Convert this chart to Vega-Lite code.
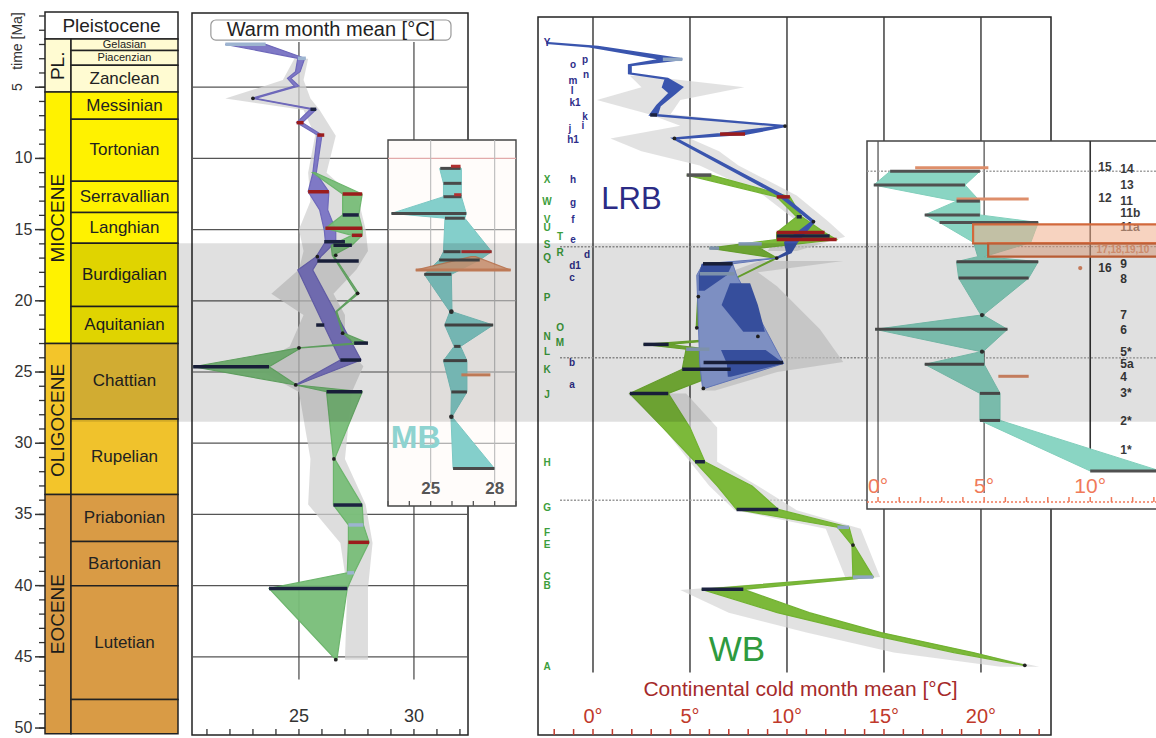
{
"$schema":"https://vega.github.io/schema/vega-lite/v6.json",
"width":1156,"height":738,"padding":0,"autosize":{"type":"none"},"background":"white",
"config":{"view":{"stroke":null},"font":"Liberation Sans","text":{"font":"Liberation Sans"}},
"datasets":{
"one":[{"k":1}],
"pleist":[{"name":"Pleistocene","top":-0.28,"bot":1.62,"mid":0.72}],
"timelab":[{"t":"time [Ma]","age":1.76},{"t":"5","age":5.0}],
"lt_minor":[{"v":0},{"v":1},{"v":2},{"v":3},{"v":4},{"v":5},{"v":6},{"v":7},{"v":8},{"v":9},{"v":10},{"v":11},{"v":12},{"v":13},{"v":14},{"v":15},{"v":16},{"v":17},{"v":18},{"v":19},{"v":20},{"v":21},{"v":22},{"v":23},{"v":24},{"v":25},{"v":26},{"v":27},{"v":28},{"v":29},{"v":30},{"v":31},{"v":32},{"v":33},{"v":34},{"v":35},{"v":36},{"v":37},{"v":38},{"v":39},{"v":40},{"v":41},{"v":42},{"v":43},{"v":44},{"v":45},{"v":46},{"v":47},{"v":48},{"v":49},{"v":50}],
"lt_major":[{"v":5},{"v":10},{"v":15},{"v":20},{"v":25},{"v":30},{"v":35},{"v":40},{"v":45},{"v":50}],
"lt_labels":[{"v":10,"l":"10"},{"v":15,"l":"15"},{"v":20,"l":"20"},{"v":25,"l":"25"},{"v":30,"l":"30"},{"v":35,"l":"35"},{"v":40,"l":"40"},{"v":45,"l":"45"},{"v":50,"l":"50"}],
"epochs":[{"name":"PL.","top":1.62,"bot":5.33,"mid":3.5},{"name":"MIOCENE","top":5.33,"bot":23.0,"mid":14.2},{"name":"OLIGOCENE","top":23.0,"bot":33.6,"mid":28.4},{"name":"EOCENE","top":33.6,"bot":50.4,"mid":42.0}],
"stages":[
{"name":"Gelasian","top":1.62,"bot":2.42,"mid":2.02},
{"name":"Piacenzian","top":2.42,"bot":3.46,"mid":2.94},
{"name":"Zanclean","top":3.46,"bot":5.33,"mid":4.4},
{"name":"Messinian","top":5.33,"bot":7.25,"mid":6.29},
{"name":"Tortonian","top":7.25,"bot":11.6,"mid":9.42},
{"name":"Serravallian","top":11.6,"bot":13.8,"mid":12.7},
{"name":"Langhian","top":13.8,"bot":15.95,"mid":14.87},
{"name":"Burdigalian","top":15.95,"bot":20.4,"mid":18.17},
{"name":"Aquitanian","top":20.4,"bot":23.0,"mid":21.7},
{"name":"Chattian","top":23.0,"bot":28.3,"mid":25.65},
{"name":"Rupelian","top":28.3,"bot":33.6,"mid":30.95},
{"name":"Priabonian","top":33.6,"bot":36.9,"mid":35.25},
{"name":"Bartonian","top":36.9,"bot":40.0,"mid":38.45},
{"name":"Lutetian","top":40.0,"bot":48.0,"mid":44.0},
{"name":"","top":48.0,"bot":50.4,"mid":49.2}],
"wm_hgrid":[{"age":5},{"age":10},{"age":15},{"age":20},{"age":25},{"age":30},{"age":35},{"age":40},{"age":45}],
"wm_vgrid":[{"t":25},{"t":30}],
"wm_ticks":[{"v":21},{"v":22},{"v":23},{"v":24},{"v":25},{"v":26},{"v":27},{"v":28},{"v":29},{"v":30},{"v":31},{"v":32}],
"wm_labels":[{"v":25,"l":"25"},{"v":30,"l":"30"}],
"wm_gray":[
{"age":3.0,"lo":24.8,"hi":25.4},{"age":4.5,"lo":24.3,"hi":25.2},{"age":5.8,"lo":21.8,"hi":25.5},{"age":6.6,"lo":25.2,"hi":25.9},{"age":8.4,"lo":25.7,"hi":26.6},{"age":11.0,"lo":25.4,"hi":26.2},{"age":13.0,"lo":25.5,"hi":27.6},{"age":15.0,"lo":25.0,"hi":27.9},{"age":16.5,"lo":25.2,"hi":28.0},{"age":17.8,"lo":25.0,"hi":27.5},{"age":19.5,"lo":23.8,"hi":26.5},{"age":21.0,"lo":25.2,"hi":27.0},{"age":23.2,"lo":24.6,"hi":27.0},{"age":24.6,"lo":23.0,"hi":27.8},{"age":26.4,"lo":25.0,"hi":27.3},{"age":31.1,"lo":25.5,"hi":27.0},{"age":34.3,"lo":25.4,"hi":27.9},{"age":37.0,"lo":26.8,"hi":28.2},{"age":40.2,"lo":27.1,"hi":28.0},{"age":45.2,"lo":27.0,"hi":28.0}],
"wm_purple":[
{"age":1.99,"lo":21.8,"hi":23.55},{"age":2.97,"lo":24.95,"hi":25.25},{"age":3.91,"lo":24.85,"hi":25.05},{"age":4.38,"lo":24.5,"hi":24.65},{"age":4.92,"lo":24.8,"hi":25.0},{"age":5.78,"lo":22.95,"hi":23.1},{"age":6.55,"lo":25.5,"hi":25.75},{"age":7.49,"lo":24.9,"hi":25.15},{"age":8.36,"lo":25.8,"hi":26.0},{"age":11.05,"lo":25.6,"hi":25.75},{"age":12.34,"lo":25.4,"hi":26.3},{"age":13.62,"lo":25.9,"hi":26.25},{"age":15.03,"lo":26.1,"hi":26.6},{"age":15.85,"lo":26.15,"hi":26.6},{"age":16.9,"lo":25.75,"hi":25.95},{"age":17.84,"lo":24.95,"hi":25.6},{"age":24.16,"lo":26.8,"hi":27.7},{"age":25.91,"lo":24.85,"hi":24.9}],
"wm_green":[
{"age":11.0,"lo":25.6,"hi":25.7},{"age":12.5,"lo":26.9,"hi":27.75},{"age":13.97,"lo":26.9,"hi":27.6},{"age":14.9,"lo":26.15,"hi":27.75},{"age":15.4,"lo":27.3,"hi":27.75},{"age":16.1,"lo":26.4,"hi":27.3},{"age":16.8,"lo":26.45,"hi":26.5},{"age":19.47,"lo":27.5,"hi":27.6},{"age":20.76,"lo":26.6,"hi":26.65},{"age":22.27,"lo":26.9,"hi":26.95},{"age":22.97,"lo":27.4,"hi":28.0},{"age":23.3,"lo":25.0,"hi":25.1},{"age":24.63,"lo":20.4,"hi":23.7},{"age":25.91,"lo":24.85,"hi":24.9},{"age":26.38,"lo":26.2,"hi":27.75},{"age":31.1,"lo":26.5,"hi":26.55},{"age":34.34,"lo":26.5,"hi":27.75},{"age":35.74,"lo":27.15,"hi":27.8},{"age":36.96,"lo":27.15,"hi":28.05},{"age":39.1,"lo":27.1,"hi":27.4},{"age":40.2,"lo":23.7,"hi":27.1},{"age":45.2,"lo":26.6,"hi":26.65}],
"wm_bars":[
{"age":1.99,"lo":21.8,"hi":23.55,"kind":"light"},{"age":2.97,"lo":24.95,"hi":25.3,"kind":"light"},{"age":6.55,"lo":25.5,"hi":25.75,"kind":"navy"},{"age":7.49,"lo":24.9,"hi":25.2,"kind":"red"},{"age":8.36,"lo":25.8,"hi":26.1,"kind":"red"},{"age":12.34,"lo":25.4,"hi":26.3,"kind":"red"},{"age":12.5,"lo":26.9,"hi":27.75,"kind":"red"},{"age":13.97,"lo":26.9,"hi":27.6,"kind":"navy"},{"age":14.9,"lo":26.15,"hi":27.75,"kind":"red"},{"age":15.4,"lo":27.3,"hi":27.75,"kind":"red"},{"age":15.85,"lo":26.1,"hi":27.0,"kind":"navy"},{"age":16.1,"lo":26.5,"hi":27.3,"kind":"navy"},{"age":17.2,"lo":25.8,"hi":27.6,"kind":"navy"},{"age":21.7,"lo":25.75,"hi":26.1,"kind":"navy"},{"age":22.97,"lo":27.4,"hi":28.0,"kind":"navy"},{"age":24.16,"lo":26.8,"hi":27.7,"kind":"navy"},{"age":24.63,"lo":20.4,"hi":23.7,"kind":"navy"},{"age":26.38,"lo":26.2,"hi":27.75,"kind":"navy"},{"age":34.34,"lo":26.5,"hi":27.75,"kind":"navy"},{"age":35.74,"lo":27.15,"hi":27.8,"kind":"light"},{"age":36.96,"lo":27.15,"hi":28.05,"kind":"red"},{"age":39.1,"lo":27.1,"hi":27.4,"kind":"light"},{"age":40.2,"lo":23.7,"hi":27.1,"kind":"navy"}],
"wm_dots":[{"x":23.0,"age":5.78},{"x":25.8,"age":16.9},{"x":26.6,"age":16.8},{"x":27.55,"age":19.47},{"x":26.9,"age":22.27},{"x":25.0,"age":23.3},{"x":24.86,"age":25.91},{"x":26.52,"age":31.1},{"x":26.6,"age":45.2}],
"rp_vgrid":[{"t":0},{"t":5},{"t":10},{"t":15},{"t":20}],
"rp_dotted":[{"age":16.2},{"age":24.0},{"age":34.0}],
"rp_ticks":[{"v":-2},{"v":-1},{"v":0},{"v":1},{"v":2},{"v":3},{"v":4},{"v":5},{"v":6},{"v":7},{"v":8},{"v":9},{"v":10},{"v":11},{"v":12},{"v":13},{"v":14},{"v":15},{"v":16},{"v":17},{"v":18},{"v":19},{"v":20},{"v":21},{"v":22},{"v":23}],
"rp_axlabels":[{"v":0,"l":"0°"},{"v":5,"l":"5°"},{"v":10,"l":"10°"},{"v":15,"l":"15°"},{"v":20,"l":"20°"}],
"rp_gray":[
{"id":"r1","age":4.2,"lo":1.9,"hi":2.6},{"id":"r1","age":5.0,"lo":2.5,"hi":7.8},{"id":"r1","age":5.9,"lo":0.2,"hi":4.5},{"id":"r1","age":6.9,"lo":2.9,"hi":4.0},{"id":"r1","age":7.7,"lo":4.5,"hi":9.9},{"id":"r1","age":8.6,"lo":0.9,"hi":5.0},{"id":"r1","age":9.5,"lo":2.5,"hi":6.5},{"id":"r1","age":10.5,"lo":5.5,"hi":7.5},{"id":"r1","age":12.6,"lo":8.8,"hi":10.5},{"id":"r1","age":14.4,"lo":10.5,"hi":12.1},{"id":"r1","age":15.5,"lo":9.5,"hi":13.0},{"id":"r1","age":16.5,"lo":9.0,"hi":10.5},
{"id":"r2","age":17.2,"lo":8.6,"hi":12.9},{"id":"r2","age":18.0,"lo":7.0,"hi":8.5},{"id":"r2","age":19.0,"lo":7.5,"hi":9.5},{"id":"r2","age":22.0,"lo":8.5,"hi":11.7},{"id":"r2","age":24.3,"lo":9.8,"hi":12.9},{"id":"r2","age":25.0,"lo":8.0,"hi":9.5},{"id":"r2","age":26.3,"lo":5.5,"hi":6.3},
{"id":"r3","age":26.5,"lo":1.8,"hi":4.8},{"id":"r3","age":28.9,"lo":3.6,"hi":6.4},{"id":"r3","age":31.3,"lo":5.0,"hi":6.4},{"id":"r3","age":33.0,"lo":6.0,"hi":8.5},{"id":"r3","age":34.7,"lo":7.3,"hi":10.5},{"id":"r3","age":36.0,"lo":12.0,"hi":13.8},{"id":"r3","age":39.4,"lo":13.0,"hi":14.8},{"id":"r3","age":40.3,"lo":4.5,"hi":8.0},{"id":"r3","age":41.9,"lo":7.0,"hi":11.1},{"id":"r3","age":43.3,"lo":11.0,"hi":14.8},{"id":"r3","age":44.7,"lo":15.5,"hi":19.6},{"id":"r3","age":45.7,"lo":21.0,"hi":23.0}],
"rp_wb":[
{"age":11.17,"lo":4.83,"hi":6.1},{"age":12.7,"lo":9.47,"hi":10.15},{"age":14.1,"lo":10.5,"hi":10.76},{"age":15.2,"lo":9.47,"hi":11.94},{"age":15.7,"lo":9.47,"hi":12.56},{"age":16.3,"lo":6.0,"hi":8.6},{"age":17.0,"lo":9.4,"hi":9.5},{"age":19.7,"lo":5.4,"hi":5.46},{"age":21.9,"lo":5.32,"hi":5.38},{"age":22.5,"lo":8.45,"hi":8.55},{"age":23.06,"lo":2.6,"hi":3.9},{"age":23.4,"lo":4.8,"hi":6.0},{"age":24.8,"lo":4.6,"hi":7.1},{"age":26.5,"lo":1.9,"hi":3.88},{"age":28.9,"lo":3.6,"hi":5.0},{"age":31.3,"lo":5.26,"hi":5.77},{"age":33.0,"lo":6.4,"hi":8.2},{"age":34.65,"lo":7.4,"hi":9.55},{"age":35.9,"lo":12.6,"hi":13.2},{"age":37.15,"lo":13.35,"hi":13.45},{"age":39.4,"lo":13.4,"hi":14.45},{"age":40.26,"lo":5.6,"hi":7.75},{"age":41.9,"lo":9.5,"hi":11.15},{"age":43.3,"lo":13.8,"hi":14.85},{"age":44.7,"lo":18.6,"hi":19.6},{"age":45.6,"lo":22.2,"hi":22.3}],
"rp_lrb_top":[
{"age":1.9,"lo":-2.4,"hi":-2.3},{"age":2.15,"lo":-0.2,"hi":0.25},{"age":3.04,"lo":3.6,"hi":4.6},{"age":3.45,"lo":1.85,"hi":1.95},{"age":4.03,"lo":1.85,"hi":1.95},{"age":4.4,"lo":3.75,"hi":3.85},{"age":5.0,"lo":3.6,"hi":4.6},{"age":5.4,"lo":3.95,"hi":4.25},{"age":6.3,"lo":3.3,"hi":3.45},{"age":6.95,"lo":2.95,"hi":3.3},{"age":7.73,"lo":9.85,"hi":9.95},{"age":8.29,"lo":6.55,"hi":7.84},{"age":8.6,"lo":4.15,"hi":4.25},{"age":12.57,"lo":9.55,"hi":9.75},{"age":14.44,"lo":11.3,"hi":11.4},{"age":15.9,"lo":9.9,"hi":10.5},{"age":16.6,"lo":10.0,"hi":10.2},{"age":17.0,"lo":9.45,"hi":9.5}],
"rp_lrb_light":[{"age":17.0,"lo":9.45,"hi":9.5},{"age":17.4,"lo":5.67,"hi":7.2},{"age":18.2,"lo":5.35,"hi":7.4},{"age":24.4,"lo":5.5,"hi":9.83},{"age":26.15,"lo":5.65,"hi":5.75}],
"rp_lrb_dark":[
{"id":"p1","age":17.4,"lo":5.6,"hi":7.2},{"id":"p1","age":18.2,"lo":5.45,"hi":6.9},{"id":"p1","age":19.3,"lo":5.45,"hi":5.75},
{"id":"p2","age":18.77,"lo":7.06,"hi":8.1},{"id":"p2","age":20.3,"lo":6.63,"hi":8.5},{"id":"p2","age":22.17,"lo":7.75,"hi":8.86},
{"id":"p3","age":23.46,"lo":6.6,"hi":8.9},{"id":"p3","age":24.4,"lo":6.9,"hi":9.85},{"id":"p3","age":25.33,"lo":6.95,"hi":7.1}],
"rp_bars":[
{"age":3.04,"lo":3.6,"hi":4.6,"kind":"light"},{"age":6.95,"lo":2.95,"hi":3.3,"kind":"navy"},{"age":8.29,"lo":6.55,"hi":7.84,"kind":"red"},{"age":11.17,"lo":4.83,"hi":6.1,"kind":"dgray"},{"age":12.7,"lo":9.47,"hi":10.15,"kind":"red"},{"age":14.1,"lo":10.5,"hi":10.76,"kind":"navy"},{"age":15.2,"lo":9.47,"hi":11.94,"kind":"red"},{"age":15.45,"lo":9.47,"hi":12.2,"kind":"navy"},{"age":15.7,"lo":9.47,"hi":12.56,"kind":"red"},{"age":16.0,"lo":7.5,"hi":8.7,"kind":"light"},{"age":16.3,"lo":6.0,"hi":6.5,"kind":"light"},{"age":17.4,"lo":5.67,"hi":7.2,"kind":"navy"},{"age":18.1,"lo":5.5,"hi":7.3,"kind":"light"},{"age":23.06,"lo":2.6,"hi":3.9,"kind":"navy"},{"age":23.4,"lo":4.8,"hi":6.0,"kind":"light"},{"age":24.33,"lo":5.7,"hi":9.8,"kind":"navy"},{"age":24.8,"lo":4.6,"hi":7.1,"kind":"navy"},{"age":26.5,"lo":1.9,"hi":3.88,"kind":"navy"},{"age":31.3,"lo":5.26,"hi":5.77,"kind":"navy"},{"age":34.65,"lo":7.4,"hi":9.55,"kind":"navy"},{"age":35.9,"lo":12.6,"hi":13.2,"kind":"light"},{"age":39.4,"lo":13.4,"hi":14.45,"kind":"light"},{"age":40.26,"lo":5.6,"hi":7.75,"kind":"navy"}],
"rp_dots":[{"x":9.9,"age":7.73},{"x":4.2,"age":8.6},{"x":11.36,"age":14.44},{"x":9.47,"age":17.0},{"x":5.43,"age":19.7},{"x":5.35,"age":21.9},{"x":8.5,"age":22.5},{"x":5.69,"age":26.15},{"x":13.4,"age":37.15},{"x":22.26,"age":45.6}],
"rp_letters":[
{"t":"X","x":-2.37,"age":11.52,"grp":"WB"},{"t":"W","x":-2.37,"age":13.04,"grp":"WB"},{"t":"V","x":-2.37,"age":14.3,"grp":"WB"},{"t":"U","x":-2.37,"age":14.92,"grp":"WB"},{"t":"T","x":-1.7,"age":15.5,"grp":"WB"},{"t":"S","x":-2.37,"age":16.08,"grp":"WB"},{"t":"R","x":-1.7,"age":16.64,"grp":"WB"},{"t":"Q","x":-2.37,"age":16.99,"grp":"WB"},{"t":"P","x":-2.37,"age":19.8,"grp":"WB"},{"t":"O","x":-1.7,"age":21.9,"grp":"WB"},{"t":"N","x":-2.37,"age":22.54,"grp":"WB"},{"t":"M","x":-1.7,"age":22.96,"grp":"WB"},{"t":"L","x":-2.37,"age":23.6,"grp":"WB"},{"t":"K","x":-2.37,"age":24.86,"grp":"WB"},{"t":"J","x":-2.37,"age":26.6,"grp":"WB"},{"t":"H","x":-2.37,"age":31.4,"grp":"WB"},{"t":"G","x":-2.37,"age":34.55,"grp":"WB"},{"t":"F","x":-2.37,"age":36.3,"grp":"WB"},{"t":"E","x":-2.37,"age":37.15,"grp":"WB"},{"t":"C","x":-2.37,"age":39.4,"grp":"WB"},{"t":"B","x":-2.37,"age":40.03,"grp":"WB"},{"t":"A","x":-2.37,"age":45.72,"grp":"WB"},
{"t":"Y","x":-2.37,"age":1.9,"grp":"LRB"},{"t":"o","x":-1.03,"age":3.45,"grp":"LRB"},{"t":"p","x":-0.41,"age":3.1,"grp":"LRB"},{"t":"n","x":-0.36,"age":4.14,"grp":"LRB"},{"t":"m","x":-1.03,"age":4.58,"grp":"LRB"},{"t":"l","x":-1.08,"age":5.25,"grp":"LRB"},{"t":"k1","x":-0.93,"age":6.09,"grp":"LRB"},{"t":"k","x":-0.41,"age":7.09,"grp":"LRB"},{"t":"j","x":-1.19,"age":7.9,"grp":"LRB"},{"t":"i","x":-0.52,"age":7.75,"grp":"LRB"},{"t":"h1","x":-1.03,"age":8.71,"grp":"LRB"},{"t":"h","x":-1.03,"age":11.52,"grp":"LRB"},{"t":"g","x":-1.03,"age":13.1,"grp":"LRB"},{"t":"f","x":-1.03,"age":14.33,"grp":"LRB"},{"t":"e","x":-1.03,"age":15.73,"grp":"LRB"},{"t":"d","x":-0.31,"age":16.78,"grp":"LRB"},{"t":"d1","x":-0.93,"age":17.56,"grp":"LRB"},{"t":"c","x":-1.08,"age":18.4,"grp":"LRB"},{"t":"b","x":-1.08,"age":24.37,"grp":"LRB"},{"t":"a","x":-1.08,"age":25.9,"grp":"LRB"}],
"mb_hgrid":[{"age":10,"c":"p"},{"age":15,"c":"g"},{"age":20,"c":"g"},{"age":25,"c":"g"},{"age":30,"c":"g"}],
"mb_vgrid":[{"t":25},{"t":28}],
"mb_ticks":[{"v":23},{"v":24},{"v":25},{"v":26},{"v":27},{"v":28},{"v":29}],
"mb_axlabels":[{"v":25,"l":"25"},{"v":28,"l":"28"}],
"mb_teal":[
{"age":10.7,"lo":25.42,"hi":26.44},{"age":11.75,"lo":25.6,"hi":26.44},{"age":12.69,"lo":25.6,"hi":26.44},{"age":13.86,"lo":23.16,"hi":26.67},{"age":14.2,"lo":25.67,"hi":26.6},{"age":16.55,"lo":25.6,"hi":27.86},{"age":17.13,"lo":25.4,"hi":27.3},{"age":18.14,"lo":24.7,"hi":25.97},{"age":20.76,"lo":25.9,"hi":26.0},{"age":21.7,"lo":25.66,"hi":27.93},{"age":23.2,"lo":26.1,"hi":26.4},{"age":24.2,"lo":25.6,"hi":26.7},{"age":26.4,"lo":25.97,"hi":26.7},{"age":28.14,"lo":25.95,"hi":26.0},{"age":31.77,"lo":26.05,"hi":27.99}],
"mb_orange":[{"age":16.9,"lo":26.9,"hi":27.1},{"age":17.84,"lo":24.3,"hi":28.75}],
"mb_bars":[
{"age":10.7,"lo":25.45,"hi":26.4,"kind":"dgray"},{"age":10.55,"lo":25.95,"hi":26.4,"kind":"red"},{"age":11.75,"lo":25.6,"hi":26.44,"kind":"dgray"},{"age":12.69,"lo":25.6,"hi":26.44,"kind":"dgray"},{"age":12.55,"lo":26.1,"hi":26.44,"kind":"red"},{"age":13.86,"lo":23.16,"hi":26.67,"kind":"dgray"},{"age":14.2,"lo":25.67,"hi":26.6,"kind":"dgray"},{"age":16.55,"lo":25.6,"hi":26.4,"kind":"dgray"},{"age":16.55,"lo":26.44,"hi":27.86,"kind":"red"},{"age":17.13,"lo":25.4,"hi":27.3,"kind":"dgray"},{"age":17.84,"lo":24.3,"hi":28.75,"kind":"salmon"},{"age":18.14,"lo":24.7,"hi":25.97,"kind":"dgray"},{"age":21.7,"lo":25.66,"hi":27.93,"kind":"dgray"},{"age":23.2,"lo":26.1,"hi":26.4,"kind":"dgray"},{"age":24.2,"lo":25.6,"hi":26.7,"kind":"dgray"},{"age":25.2,"lo":26.44,"hi":27.8,"kind":"salmon"},{"age":26.4,"lo":25.97,"hi":26.7,"kind":"dgray"},{"age":31.77,"lo":26.05,"hi":27.99,"kind":"dgray"}],
"mb_dots":[{"x":25.97,"age":20.76},{"x":25.97,"age":28.14}],
"ri_vlines":[{"t":0},{"t":5}],
"ri_dotted":[{"age":10.9},{"age":16.2},{"age":24.0}],
"ri_ticks":[{"v":0},{"v":1},{"v":2},{"v":3},{"v":4},{"v":5},{"v":6},{"v":7},{"v":8},{"v":9},{"v":10},{"v":11},{"v":12},{"v":13}],
"ri_axlabels":[{"v":0,"l":"0°"},{"v":5,"l":"5°"},{"v":10,"l":"10°"}],
"ri_teal":[
{"age":10.9,"lo":0.57,"hi":4.8},{"age":11.87,"lo":-0.2,"hi":4.1},{"age":13.0,"lo":3.7,"hi":4.8},{"age":13.97,"lo":2.2,"hi":4.8},{"age":14.5,"lo":2.9,"hi":7.55},{"age":15.9,"lo":4.5,"hi":7.2},{"age":16.9,"lo":4.7,"hi":5.0},{"age":17.25,"lo":3.7,"hi":7.55},{"age":18.4,"lo":3.8,"hi":7.1},{"age":21.0,"lo":4.85,"hi":4.95},{"age":22.0,"lo":-0.14,"hi":6.1},{"age":23.57,"lo":4.85,"hi":4.95},{"age":24.46,"lo":2.2,"hi":5.0},{"age":26.5,"lo":4.8,"hi":5.75},{"age":28.4,"lo":4.8,"hi":5.75},{"age":31.95,"lo":10.0,"hi":13.3}],
"ri_bars":[
{"age":10.65,"lo":1.75,"hi":5.2,"kind":"salmon"},{"age":10.9,"lo":0.57,"hi":4.8,"kind":"dgray"},{"age":11.87,"lo":-0.2,"hi":4.1,"kind":"dgray"},{"age":12.85,"lo":3.7,"hi":7.1,"kind":"salmon"},{"age":13.0,"lo":3.7,"hi":4.8,"kind":"dgray"},{"age":13.97,"lo":2.2,"hi":4.8,"kind":"dgray"},{"age":14.5,"lo":2.9,"hi":7.55,"kind":"dgray"},{"age":17.25,"lo":3.7,"hi":7.55,"kind":"dgray"},{"age":18.4,"lo":3.8,"hi":7.1,"kind":"dgray"},{"age":22.0,"lo":-0.14,"hi":6.1,"kind":"dgray"},{"age":24.46,"lo":2.2,"hi":5.0,"kind":"dgray"},{"age":25.3,"lo":5.67,"hi":7.1,"kind":"salmon"},{"age":26.5,"lo":4.8,"hi":5.75,"kind":"dgray"},{"age":28.4,"lo":4.8,"hi":5.75,"kind":"dgray"},{"age":31.95,"lo":10.0,"hi":13.3,"kind":"dgray"}],
"ri_boxes":[{"top":14.63,"bot":15.96,"lo":4.48,"hi":13.3},{"top":15.96,"bot":16.9,"lo":5.19,"hi":13.3}],
"ri_dots":[{"x":4.9,"age":21.0,"kind":"dark"},{"x":4.9,"age":23.57,"kind":"dark"},{"x":9.53,"age":17.7,"kind":"salmon"}],
"ri_labels":[
{"t":"15","x":10.38,"age":10.58,"grp":"k"},{"t":"14","x":11.42,"age":10.72,"grp":"k"},{"t":"13","x":11.42,"age":11.87,"grp":"k"},{"t":"12","x":10.38,"age":12.78,"grp":"k"},{"t":"11","x":11.42,"age":12.99,"grp":"k"},{"t":"11b","x":11.42,"age":13.82,"grp":"k"},{"t":"11a","x":11.42,"age":14.85,"grp":"k"},{"t":"17,18,19,10","x":10.3,"age":16.45,"grp":"s"},{"t":"16","x":10.38,"age":17.7,"grp":"k"},{"t":"9","x":11.42,"age":17.4,"grp":"k"},{"t":"8","x":11.42,"age":18.47,"grp":"k"},{"t":"7","x":11.42,"age":21.0,"grp":"k"},{"t":"6","x":11.42,"age":22.05,"grp":"k"},{"t":"5*","x":11.42,"age":23.6,"grp":"k"},{"t":"5a","x":11.42,"age":24.44,"grp":"k"},{"t":"4","x":11.42,"age":25.35,"grp":"k"},{"t":"3*","x":11.42,"age":26.47,"grp":"k"},{"t":"2*","x":11.42,"age":28.44,"grp":"k"},{"t":"1*","x":11.42,"age":30.48,"grp":"k"}]
},
"resolve":{"scale":{"x":"independent","color":"independent","size":"independent"},"axis":{"x":"independent"}},
"layer":[
{"layer":[
 {"data":{"name":"pleist"},"mark":{"type":"rect","fill":"white","stroke":"#222","strokeWidth":1.5},
  "encoding":{"x":{"datum":0,"type":"quantitative","scale":{"domain":[0,1],"range":[45,178],"nice":false,"zero":false},"axis":null},"x2":{"datum":1},
   "y":{"field":"top","type":"quantitative","scale":{"domain":[-1.124,50.7],"range":[0,738],"nice":false,"zero":false},"axis":null},"y2":{"field":"bot"}}},
 {"data":{"name":"pleist"},"mark":{"type":"text","fontSize":19,"color":"#222"},
  "encoding":{"x":{"datum":0.5,"type":"quantitative","scale":{"domain":[0,1],"range":[45,178],"nice":false,"zero":false},"axis":null},
   "y":{"field":"mid","type":"quantitative","scale":{"domain":[-1.124,50.7],"range":[0,738],"nice":false,"zero":false},"axis":null},"text":{"field":"name"}}},
 {"data":{"name":"lt_minor"},"mark":{"type":"rule","stroke":"#333","strokeWidth":1.3},
  "encoding":{"x":{"datum":-0.045,"type":"quantitative","scale":{"domain":[0,1],"range":[45,178],"nice":false,"zero":false},"axis":null},"x2":{"datum":0},
   "y":{"field":"v","type":"quantitative","scale":{"domain":[-1.124,50.7],"range":[0,738],"nice":false,"zero":false},"axis":null}}},
 {"data":{"name":"lt_major"},"mark":{"type":"rule","stroke":"#333","strokeWidth":1.5},
  "encoding":{"x":{"datum":-0.075,"type":"quantitative","scale":{"domain":[0,1],"range":[45,178],"nice":false,"zero":false},"axis":null},"x2":{"datum":0},
   "y":{"field":"v","type":"quantitative","scale":{"domain":[-1.124,50.7],"range":[0,738],"nice":false,"zero":false},"axis":null}}},
 {"data":{"name":"lt_labels"},"mark":{"type":"text","fontSize":16,"color":"#333","align":"right","baseline":"middle"},
  "encoding":{"x":{"datum":-0.095,"type":"quantitative","scale":{"domain":[0,1],"range":[45,178],"nice":false,"zero":false},"axis":null},
   "y":{"field":"v","type":"quantitative","scale":{"domain":[-1.124,50.7],"range":[0,738],"nice":false,"zero":false},"axis":null},"text":{"field":"l"}}},
 {"data":{"name":"timelab"},"mark":{"type":"text","fontSize":14,"angle":270,"color":"#333"},
  "encoding":{"x":{"datum":-0.2,"type":"quantitative","scale":{"domain":[0,1],"range":[45,178],"nice":false,"zero":false},"axis":null},
   "y":{"field":"age","type":"quantitative","scale":{"domain":[-1.124,50.7],"range":[0,738],"nice":false,"zero":false},"axis":null},"text":{"field":"t"}}}
]},
{"layer":[
 {"data":{"name":"epochs"},"mark":{"type":"rect","stroke":"#222","strokeWidth":1.5},
  "encoding":{"x":{"datum":0,"type":"quantitative","scale":{"domain":[0,1],"range":[45,71],"nice":false,"zero":false},"axis":null},"x2":{"datum":1},
   "y":{"field":"top","type":"quantitative","scale":{"domain":[-1.124,50.7],"range":[0,738],"nice":false,"zero":false},"axis":null},"y2":{"field":"bot"},
   "color":{"field":"name","type":"nominal","scale":{"domain":["PL.","MIOCENE","OLIGOCENE","EOCENE"],"range":["#FFFBD2","#FFF200","#F3C52A","#D99B45"]},"legend":null}}},
 {"data":{"name":"epochs"},"mark":{"type":"text","fontSize":19,"angle":270,"color":"#1a1a1a"},
  "encoding":{"x":{"datum":0.5,"type":"quantitative","scale":{"domain":[0,1],"range":[45,71],"nice":false,"zero":false},"axis":null},
   "y":{"field":"mid","type":"quantitative","scale":{"domain":[-1.124,50.7],"range":[0,738],"nice":false,"zero":false},"axis":null},"text":{"field":"name"}}}
]},
{"layer":[
 {"data":{"name":"stages"},"mark":{"type":"rect","stroke":"#222","strokeWidth":1.5},
  "encoding":{"x":{"datum":0,"type":"quantitative","scale":{"domain":[0,1],"range":[71,178],"nice":false,"zero":false},"axis":null},"x2":{"datum":1},
   "y":{"field":"top","type":"quantitative","scale":{"domain":[-1.124,50.7],"range":[0,738],"nice":false,"zero":false},"axis":null},"y2":{"field":"bot"},
   "color":{"field":"name","type":"nominal","scale":{"domain":["Gelasian","Piacenzian","Zanclean","Messinian","Tortonian","Serravallian","Langhian","Burdigalian","Aquitanian","Chattian","Rupelian","Priabonian","Bartonian","Lutetian",""],"range":["#FFFBD2","#FFFBD2","#FFFBD2","#FFF200","#FFF200","#FFF200","#FFF200","#FFF200","#FFF200","#EEC43A","#F0C22C","#D99B45","#D99B45","#D99B45","#D99B45"]},"legend":null}}},
 {"data":{"name":"stages"},"mark":{"type":"text","color":"#222"},
  "encoding":{"x":{"datum":0.5,"type":"quantitative","scale":{"domain":[0,1],"range":[71,178],"nice":false,"zero":false},"axis":null},
   "y":{"field":"mid","type":"quantitative","scale":{"domain":[-1.124,50.7],"range":[0,738],"nice":false,"zero":false},"axis":null},"text":{"field":"name"},
   "size":{"condition":{"test":"datum.name === 'Gelasian' || datum.name === 'Piacenzian'","value":11},"value":17}}}
]},
{"resolve":{"scale":{"color":"independent"}},"layer":[
 {"data":{"name":"one"},"mark":{"type":"rect","filled":false,"stroke":"#222","strokeWidth":1.5},
  "encoding":{"x":{"datum":20.35,"type":"quantitative","scale":{"domain":[20.35,32.35],"range":[192,468],"nice":false,"zero":false},"axis":null},"x2":{"datum":32.35},
   "y":{"datum":-0.21,"type":"quantitative","scale":{"domain":[-1.124,50.7],"range":[0,738],"nice":false,"zero":false},"axis":null},"y2":{"datum":50.49}}},
 {"data":{"name":"wm_hgrid"},"mark":{"type":"rule","stroke":"#555","strokeWidth":1.2},
  "encoding":{"x":{"datum":20.35,"type":"quantitative","scale":{"domain":[20.35,32.35],"range":[192,468],"nice":false,"zero":false},"axis":null},"x2":{"datum":32.35},
   "y":{"field":"age","type":"quantitative","scale":{"domain":[-1.124,50.7],"range":[0,738],"nice":false,"zero":false},"axis":null}}},
 {"data":{"name":"wm_vgrid"},"mark":{"type":"rule","stroke":"#444","strokeWidth":1.2},
  "encoding":{"x":{"field":"t","type":"quantitative","scale":{"domain":[20.35,32.35],"range":[192,468],"nice":false,"zero":false},"axis":null},
   "y":{"datum":1.83,"type":"quantitative","scale":{"domain":[-1.124,50.7],"range":[0,738],"nice":false,"zero":false},"axis":null},"y2":{"datum":46.6}}},
 {"data":{"name":"wm_ticks"},"mark":{"type":"rule","stroke":"#333","strokeWidth":1.3},
  "encoding":{"x":{"field":"v","type":"quantitative","scale":{"domain":[20.35,32.35],"range":[192,468],"nice":false,"zero":false},"axis":null},
   "y":{"datum":50.07,"type":"quantitative","scale":{"domain":[-1.124,50.7],"range":[0,738],"nice":false,"zero":false},"axis":null},"y2":{"datum":50.49}}},
 {"data":{"name":"wm_labels"},"mark":{"type":"text","fontSize":18,"color":"#333"},
  "encoding":{"x":{"field":"v","type":"quantitative","scale":{"domain":[20.35,32.35],"range":[192,468],"nice":false,"zero":false},"axis":null},
   "y":{"datum":49.23,"type":"quantitative","scale":{"domain":[-1.124,50.7],"range":[0,738],"nice":false,"zero":false},"axis":null},"text":{"field":"l"}}},
 {"data":{"name":"wm_gray"},"mark":{"type":"area","orient":"horizontal","fill":"#D2D2D2","opacity":0.75},
  "encoding":{"x":{"field":"lo","type":"quantitative","scale":{"domain":[20.35,32.35],"range":[192,468],"nice":false,"zero":false},"axis":null},"x2":{"field":"hi"},
   "y":{"field":"age","type":"quantitative","scale":{"domain":[-1.124,50.7],"range":[0,738],"nice":false,"zero":false},"axis":null}}},
 {"data":{"name":"wm_purple"},"mark":{"type":"area","orient":"horizontal","fill":"#7F79C6","stroke":"#6E68BA","strokeWidth":1.2},
  "encoding":{"x":{"field":"lo","type":"quantitative","scale":{"domain":[20.35,32.35],"range":[192,468],"nice":false,"zero":false},"axis":null},"x2":{"field":"hi"},
   "y":{"field":"age","type":"quantitative","scale":{"domain":[-1.124,50.7],"range":[0,738],"nice":false,"zero":false},"axis":null}}},
 {"data":{"name":"wm_green"},"mark":{"type":"area","orient":"horizontal","fill":"#79BE79","stroke":"#66B266","strokeWidth":1.2,"opacity":0.95},
  "encoding":{"x":{"field":"lo","type":"quantitative","scale":{"domain":[20.35,32.35],"range":[192,468],"nice":false,"zero":false},"axis":null},"x2":{"field":"hi"},
   "y":{"field":"age","type":"quantitative","scale":{"domain":[-1.124,50.7],"range":[0,738],"nice":false,"zero":false},"axis":null}}},
 {"data":{"name":"wm_bars"},"mark":{"type":"rule","strokeWidth":3.5},
  "encoding":{"x":{"field":"lo","type":"quantitative","scale":{"domain":[20.35,32.35],"range":[192,468],"nice":false,"zero":false},"axis":null},"x2":{"field":"hi"},
   "y":{"field":"age","type":"quantitative","scale":{"domain":[-1.124,50.7],"range":[0,738],"nice":false,"zero":false},"axis":null},
   "color":{"field":"kind","type":"nominal","scale":{"domain":["navy","red","light","dgray","salmon"],"range":["#1C2340","#9B1C1C","#9DB4D0","#4A4A4A","#E08A66"]},"legend":null}}},
 {"data":{"name":"wm_dots"},"mark":{"type":"point","filled":true,"size":14,"color":"#222","opacity":1},
  "encoding":{"x":{"field":"x","type":"quantitative","scale":{"domain":[20.35,32.35],"range":[192,468],"nice":false,"zero":false},"axis":null},
   "y":{"field":"age","type":"quantitative","scale":{"domain":[-1.124,50.7],"range":[0,738],"nice":false,"zero":false},"axis":null}}},
 {"data":{"name":"one"},"mark":{"type":"rect","fill":"white","stroke":"#999","strokeWidth":1.2,"cornerRadius":5},
  "encoding":{"x":{"datum":21.17,"type":"quantitative","scale":{"domain":[20.35,32.35],"range":[192,468],"nice":false,"zero":false},"axis":null},"x2":{"datum":31.61},
   "y":{"datum":0.28,"type":"quantitative","scale":{"domain":[-1.124,50.7],"range":[0,738],"nice":false,"zero":false},"axis":null},"y2":{"datum":1.69}}},
 {"data":{"name":"one"},"mark":{"type":"text","fontSize":20,"color":"#222","text":"Warm month mean [°C]"},
  "encoding":{"x":{"datum":26.39,"type":"quantitative","scale":{"domain":[20.35,32.35],"range":[192,468],"nice":false,"zero":false},"axis":null},
   "y":{"datum":0.98,"type":"quantitative","scale":{"domain":[-1.124,50.7],"range":[0,738],"nice":false,"zero":false},"axis":null}}}
]},
{"resolve":{"scale":{"color":"independent"}},"layer":[
 {"data":{"name":"one"},"mark":{"type":"rect","filled":false,"stroke":"#222","strokeWidth":1.5},
  "encoding":{"x":{"datum":-2.835,"type":"quantitative","scale":{"domain":[-2.835,23.61],"range":[538,1051],"nice":false,"zero":false},"axis":null},"x2":{"datum":23.61},
   "y":{"datum":0.07,"type":"quantitative","scale":{"domain":[-1.124,50.7],"range":[0,738],"nice":false,"zero":false},"axis":null},"y2":{"datum":50.49}}},
 {"data":{"name":"rp_vgrid"},"mark":{"type":"rule","stroke":"#333","strokeWidth":1.4},
  "encoding":{"x":{"field":"t","type":"quantitative","scale":{"domain":[-2.835,23.61],"range":[538,1051],"nice":false,"zero":false},"axis":null},
   "y":{"datum":0.07,"type":"quantitative","scale":{"domain":[-1.124,50.7],"range":[0,738],"nice":false,"zero":false},"axis":null},"y2":{"datum":46.1}}},
 {"data":{"name":"rp_dotted"},"mark":{"type":"rule","stroke":"#999","strokeWidth":1.5,"strokeDash":[2,1.5]},
  "encoding":{"x":{"datum":-1.7,"type":"quantitative","scale":{"domain":[-2.835,23.61],"range":[538,1051],"nice":false,"zero":false},"axis":null},"x2":{"datum":29.0},
   "y":{"field":"age","type":"quantitative","scale":{"domain":[-1.124,50.7],"range":[0,738],"nice":false,"zero":false},"axis":null}}},
 {"data":{"name":"rp_ticks"},"mark":{"type":"rule","stroke":"#C0392B","strokeWidth":1.5},
  "encoding":{"x":{"field":"v","type":"quantitative","scale":{"domain":[-2.835,23.61],"range":[538,1051],"nice":false,"zero":false},"axis":null},
   "y":{"datum":50.07,"type":"quantitative","scale":{"domain":[-1.124,50.7],"range":[0,738],"nice":false,"zero":false},"axis":null},"y2":{"datum":50.49}}},
 {"data":{"name":"rp_axlabels"},"mark":{"type":"text","fontSize":20,"color":"#C0392B"},
  "encoding":{"x":{"field":"v","type":"quantitative","scale":{"domain":[-2.835,23.61],"range":[538,1051],"nice":false,"zero":false},"axis":null},
   "y":{"datum":49.23,"type":"quantitative","scale":{"domain":[-1.124,50.7],"range":[0,738],"nice":false,"zero":false},"axis":null},"text":{"field":"l"}}},
 {"data":{"name":"one"},"mark":{"type":"text","fontSize":21,"color":"#A52A2A","text":"Continental cold month mean [°C]"},
  "encoding":{"x":{"datum":10.7,"type":"quantitative","scale":{"domain":[-2.835,23.61],"range":[538,1051],"nice":false,"zero":false},"axis":null},
   "y":{"datum":47.33,"type":"quantitative","scale":{"domain":[-1.124,50.7],"range":[0,738],"nice":false,"zero":false},"axis":null}}},
 {"data":{"name":"rp_gray"},"mark":{"type":"area","orient":"horizontal","fill":"#D6D6D6","opacity":0.7},
  "encoding":{"x":{"field":"lo","type":"quantitative","scale":{"domain":[-2.835,23.61],"range":[538,1051],"nice":false,"zero":false},"axis":null},"x2":{"field":"hi"},
   "y":{"field":"age","type":"quantitative","scale":{"domain":[-1.124,50.7],"range":[0,738],"nice":false,"zero":false},"axis":null},"detail":{"field":"id"}}},
 {"data":{"name":"rp_wb"},"mark":{"type":"area","orient":"horizontal","fill":"#7CB93A","stroke":"#72B232","strokeWidth":1.2},
  "encoding":{"x":{"field":"lo","type":"quantitative","scale":{"domain":[-2.835,23.61],"range":[538,1051],"nice":false,"zero":false},"axis":null},"x2":{"field":"hi"},
   "y":{"field":"age","type":"quantitative","scale":{"domain":[-1.124,50.7],"range":[0,738],"nice":false,"zero":false},"axis":null}}},
 {"data":{"name":"rp_lrb_light"},"mark":{"type":"area","orient":"horizontal","fill":"#8FA3DD","stroke":"#6F86D0","strokeWidth":1},
  "encoding":{"x":{"field":"lo","type":"quantitative","scale":{"domain":[-2.835,23.61],"range":[538,1051],"nice":false,"zero":false},"axis":null},"x2":{"field":"hi"},
   "y":{"field":"age","type":"quantitative","scale":{"domain":[-1.124,50.7],"range":[0,738],"nice":false,"zero":false},"axis":null}}},
 {"data":{"name":"rp_lrb_dark"},"mark":{"type":"area","orient":"horizontal","fill":"#3E59B2"},
  "encoding":{"x":{"field":"lo","type":"quantitative","scale":{"domain":[-2.835,23.61],"range":[538,1051],"nice":false,"zero":false},"axis":null},"x2":{"field":"hi"},
   "y":{"field":"age","type":"quantitative","scale":{"domain":[-1.124,50.7],"range":[0,738],"nice":false,"zero":false},"axis":null},"detail":{"field":"id"}}},
 {"data":{"name":"rp_lrb_top"},"mark":{"type":"area","orient":"horizontal","fill":"#3A55AE","stroke":"#3A55AE","strokeWidth":2},
  "encoding":{"x":{"field":"lo","type":"quantitative","scale":{"domain":[-2.835,23.61],"range":[538,1051],"nice":false,"zero":false},"axis":null},"x2":{"field":"hi"},
   "y":{"field":"age","type":"quantitative","scale":{"domain":[-1.124,50.7],"range":[0,738],"nice":false,"zero":false},"axis":null}}},
 {"data":{"name":"rp_bars"},"mark":{"type":"rule","strokeWidth":3.5},
  "encoding":{"x":{"field":"lo","type":"quantitative","scale":{"domain":[-2.835,23.61],"range":[538,1051],"nice":false,"zero":false},"axis":null},"x2":{"field":"hi"},
   "y":{"field":"age","type":"quantitative","scale":{"domain":[-1.124,50.7],"range":[0,738],"nice":false,"zero":false},"axis":null},
   "color":{"field":"kind","type":"nominal","scale":{"domain":["navy","red","light","dgray","salmon"],"range":["#1C2340","#9B1C1C","#8FA5C2","#555555","#E08A66"]},"legend":null}}},
 {"data":{"name":"rp_dots"},"mark":{"type":"point","filled":true,"size":14,"color":"#222","opacity":1},
  "encoding":{"x":{"field":"x","type":"quantitative","scale":{"domain":[-2.835,23.61],"range":[538,1051],"nice":false,"zero":false},"axis":null},
   "y":{"field":"age","type":"quantitative","scale":{"domain":[-1.124,50.7],"range":[0,738],"nice":false,"zero":false},"axis":null}}},
 {"data":{"name":"rp_letters"},"mark":{"type":"text","fontSize":10,"fontWeight":"bold"},
  "encoding":{"x":{"field":"x","type":"quantitative","scale":{"domain":[-2.835,23.61],"range":[538,1051],"nice":false,"zero":false},"axis":null},
   "y":{"field":"age","type":"quantitative","scale":{"domain":[-1.124,50.7],"range":[0,738],"nice":false,"zero":false},"axis":null},"text":{"field":"t"},
   "color":{"field":"grp","type":"nominal","scale":{"domain":["WB","LRB"],"range":["#3C9E3C","#2E2E8A"]},"legend":null}}},
 {"data":{"name":"one"},"mark":{"type":"text","fontSize":31,"color":"#2B2B85","text":"LRB"},
  "encoding":{"x":{"datum":1.98,"type":"quantitative","scale":{"domain":[-2.835,23.61],"range":[538,1051],"nice":false,"zero":false},"axis":null},
   "y":{"datum":12.92,"type":"quantitative","scale":{"domain":[-1.124,50.7],"range":[0,738],"nice":false,"zero":false},"axis":null}}},
 {"data":{"name":"one"},"mark":{"type":"text","fontSize":35,"color":"#2E9A3E","text":"WB"},
  "encoding":{"x":{"datum":7.42,"type":"quantitative","scale":{"domain":[-2.835,23.61],"range":[538,1051],"nice":false,"zero":false},"axis":null},
   "y":{"datum":44.5,"type":"quantitative","scale":{"domain":[-1.124,50.7],"range":[0,738],"nice":false,"zero":false},"axis":null}}}
]},
{"resolve":{"scale":{"color":"independent"}},"layer":[
 {"data":{"name":"one"},"mark":{"type":"rect","fill":"#FFFCFA","stroke":"#444","strokeWidth":1.4},
  "encoding":{"x":{"datum":23,"type":"quantitative","scale":{"domain":[23,29],"range":[388,516],"nice":false,"zero":false},"axis":null},"x2":{"datum":29},
   "y":{"datum":8.71,"type":"quantitative","scale":{"domain":[-1.124,50.7],"range":[0,738],"nice":false,"zero":false},"axis":null},"y2":{"datum":34.41}}},
 {"data":{"name":"mb_hgrid"},"mark":{"type":"rule","strokeWidth":1.1},
  "encoding":{"x":{"datum":23,"type":"quantitative","scale":{"domain":[23,29],"range":[388,516],"nice":false,"zero":false},"axis":null},"x2":{"datum":29},
   "y":{"field":"age","type":"quantitative","scale":{"domain":[-1.124,50.7],"range":[0,738],"nice":false,"zero":false},"axis":null},
   "color":{"field":"c","type":"nominal","scale":{"domain":["p","g"],"range":["#E2AAAA","#9A9A9A"]},"legend":null}}},
 {"data":{"name":"mb_vgrid"},"mark":{"type":"rule","stroke":"#BBBBBB","strokeWidth":1.1},
  "encoding":{"x":{"field":"t","type":"quantitative","scale":{"domain":[23,29],"range":[388,516],"nice":false,"zero":false},"axis":null},
   "y":{"datum":8.71,"type":"quantitative","scale":{"domain":[-1.124,50.7],"range":[0,738],"nice":false,"zero":false},"axis":null},"y2":{"datum":32.8}}},
 {"data":{"name":"mb_ticks"},"mark":{"type":"rule","stroke":"#555","strokeWidth":1.3},
  "encoding":{"x":{"field":"v","type":"quantitative","scale":{"domain":[23,29],"range":[388,516],"nice":false,"zero":false},"axis":null},
   "y":{"datum":34.06,"type":"quantitative","scale":{"domain":[-1.124,50.7],"range":[0,738],"nice":false,"zero":false},"axis":null},"y2":{"datum":34.41}}},
 {"data":{"name":"mb_axlabels"},"mark":{"type":"text","fontSize":17,"fontWeight":"bold","color":"#555"},
  "encoding":{"x":{"field":"v","type":"quantitative","scale":{"domain":[23,29],"range":[388,516],"nice":false,"zero":false},"axis":null},
   "y":{"datum":33.22,"type":"quantitative","scale":{"domain":[-1.124,50.7],"range":[0,738],"nice":false,"zero":false},"axis":null},"text":{"field":"l"}}},
 {"data":{"name":"mb_teal"},"mark":{"type":"area","orient":"horizontal","fill":"#84CFCB","stroke":"#7CC8C4","strokeWidth":1},
  "encoding":{"x":{"field":"lo","type":"quantitative","scale":{"domain":[23,29],"range":[388,516],"nice":false,"zero":false},"axis":null},"x2":{"field":"hi"},
   "y":{"field":"age","type":"quantitative","scale":{"domain":[-1.124,50.7],"range":[0,738],"nice":false,"zero":false},"axis":null}}},
 {"data":{"name":"mb_orange"},"mark":{"type":"area","orient":"horizontal","fill":"#E3A27C","stroke":"#D07A4E","strokeWidth":1.2,"opacity":0.85},
  "encoding":{"x":{"field":"lo","type":"quantitative","scale":{"domain":[23,29],"range":[388,516],"nice":false,"zero":false},"axis":null},"x2":{"field":"hi"},
   "y":{"field":"age","type":"quantitative","scale":{"domain":[-1.124,50.7],"range":[0,738],"nice":false,"zero":false},"axis":null}}},
 {"data":{"name":"mb_bars"},"mark":{"type":"rule","strokeWidth":3},
  "encoding":{"x":{"field":"lo","type":"quantitative","scale":{"domain":[23,29],"range":[388,516],"nice":false,"zero":false},"axis":null},"x2":{"field":"hi"},
   "y":{"field":"age","type":"quantitative","scale":{"domain":[-1.124,50.7],"range":[0,738],"nice":false,"zero":false},"axis":null},
   "color":{"field":"kind","type":"nominal","scale":{"domain":["dgray","red","salmon"],"range":["#4A4A4A","#B03030","#D98A62"]},"legend":null}}},
 {"data":{"name":"mb_dots"},"mark":{"type":"point","filled":true,"size":22,"color":"#333","opacity":1},
  "encoding":{"x":{"field":"x","type":"quantitative","scale":{"domain":[23,29],"range":[388,516],"nice":false,"zero":false},"axis":null},
   "y":{"field":"age","type":"quantitative","scale":{"domain":[-1.124,50.7],"range":[0,738],"nice":false,"zero":false},"axis":null}}},
 {"data":{"name":"one"},"mark":{"type":"text","fontSize":32,"fontWeight":"bold","color":"#8ED3D0","text":"MB"},
  "encoding":{"x":{"datum":24.3,"type":"quantitative","scale":{"domain":[23,29],"range":[388,516],"nice":false,"zero":false},"axis":null},
   "y":{"datum":29.66,"type":"quantitative","scale":{"domain":[-1.124,50.7],"range":[0,738],"nice":false,"zero":false},"axis":null}}}
]},
{"resolve":{"scale":{"color":"independent","size":"independent"}},"layer":[
 {"data":{"name":"one"},"mark":{"type":"rect","fill":"white","stroke":"#444","strokeWidth":1.5},
  "encoding":{"x":{"datum":-0.52,"type":"quantitative","scale":{"domain":[-0.52,13.1],"range":[867,1156],"nice":false,"zero":false},"axis":null},"x2":{"datum":13.3},
   "y":{"datum":8.78,"type":"quantitative","scale":{"domain":[-1.124,50.7],"range":[0,738],"nice":false,"zero":false},"axis":null},"y2":{"datum":34.62}}},
 {"data":{"name":"ri_vlines"},"mark":{"type":"rule","stroke":"#555","strokeWidth":1.3},
  "encoding":{"x":{"field":"t","type":"quantitative","scale":{"domain":[-0.52,13.1],"range":[867,1156],"nice":false,"zero":false},"axis":null},
   "y":{"datum":8.78,"type":"quantitative","scale":{"domain":[-1.124,50.7],"range":[0,738],"nice":false,"zero":false},"axis":null},"y2":{"datum":33.5}}},
 {"data":{"name":"one"},"mark":{"type":"rule","stroke":"#333","strokeWidth":1.6},
  "encoding":{"x":{"datum":10,"type":"quantitative","scale":{"domain":[-0.52,13.1],"range":[867,1156],"nice":false,"zero":false},"axis":null},
   "y":{"datum":8.78,"type":"quantitative","scale":{"domain":[-1.124,50.7],"range":[0,738],"nice":false,"zero":false},"axis":null},"y2":{"datum":31.95}}},
 {"data":{"name":"ri_dotted"},"mark":{"type":"rule","stroke":"#A0A0A0","strokeWidth":1.3,"strokeDash":[2,1.5]},
  "encoding":{"x":{"datum":-0.52,"type":"quantitative","scale":{"domain":[-0.52,13.1],"range":[867,1156],"nice":false,"zero":false},"axis":null},"x2":{"datum":13.3},
   "y":{"field":"age","type":"quantitative","scale":{"domain":[-1.124,50.7],"range":[0,738],"nice":false,"zero":false},"axis":null}}},
 {"data":{"name":"one"},"mark":{"type":"rule","stroke":"#F07A5A","strokeWidth":1.5,"strokeDash":[2,2]},
  "encoding":{"x":{"datum":-0.52,"type":"quantitative","scale":{"domain":[-0.52,13.1],"range":[867,1156],"nice":false,"zero":false},"axis":null},"x2":{"datum":13.3},
   "y":{"datum":34.13,"type":"quantitative","scale":{"domain":[-1.124,50.7],"range":[0,738],"nice":false,"zero":false},"axis":null}}},
 {"data":{"name":"ri_ticks"},"mark":{"type":"rule","stroke":"#F07A5A","strokeWidth":1.5},
  "encoding":{"x":{"field":"v","type":"quantitative","scale":{"domain":[-0.52,13.1],"range":[867,1156],"nice":false,"zero":false},"axis":null},
   "y":{"datum":33.78,"type":"quantitative","scale":{"domain":[-1.124,50.7],"range":[0,738],"nice":false,"zero":false},"axis":null},"y2":{"datum":34.13}}},
 {"data":{"name":"ri_axlabels"},"mark":{"type":"text","fontSize":21,"color":"#F07A5A"},
  "encoding":{"x":{"field":"v","type":"quantitative","scale":{"domain":[-0.52,13.1],"range":[867,1156],"nice":false,"zero":false},"axis":null},
   "y":{"datum":33.1,"type":"quantitative","scale":{"domain":[-1.124,50.7],"range":[0,738],"nice":false,"zero":false},"axis":null},"text":{"field":"l"}}},
 {"data":{"name":"ri_teal"},"mark":{"type":"area","orient":"horizontal","fill":"#8AD5C3","stroke":"#82CFBC","strokeWidth":1},
  "encoding":{"x":{"field":"lo","type":"quantitative","scale":{"domain":[-0.52,13.1],"range":[867,1156],"nice":false,"zero":false},"axis":null},"x2":{"field":"hi"},
   "y":{"field":"age","type":"quantitative","scale":{"domain":[-1.124,50.7],"range":[0,738],"nice":false,"zero":false},"axis":null}}},
 {"data":{"name":"ri_bars"},"mark":{"type":"rule","strokeWidth":3},
  "encoding":{"x":{"field":"lo","type":"quantitative","scale":{"domain":[-0.52,13.1],"range":[867,1156],"nice":false,"zero":false},"axis":null},"x2":{"field":"hi"},
   "y":{"field":"age","type":"quantitative","scale":{"domain":[-1.124,50.7],"range":[0,738],"nice":false,"zero":false},"axis":null},
   "color":{"field":"kind","type":"nominal","scale":{"domain":["dgray","salmon"],"range":["#505050","#DE8E6A"]},"legend":null}}},
 {"data":{"name":"ri_labels"},"mark":{"type":"text","fontWeight":"bold","align":"left"},
  "encoding":{"x":{"field":"x","type":"quantitative","scale":{"domain":[-0.52,13.1],"range":[867,1156],"nice":false,"zero":false},"axis":null},
   "y":{"field":"age","type":"quantitative","scale":{"domain":[-1.124,50.7],"range":[0,738],"nice":false,"zero":false},"axis":null},"text":{"field":"t"},
   "size":{"condition":{"test":"datum.grp === 's'","value":10},"value":12},
   "color":{"field":"grp","type":"nominal","scale":{"domain":["k","s"],"range":["#3A3A3A","#E08A66"]},"legend":null}}},
 {"data":{"name":"ri_boxes"},"mark":{"type":"rect","fill":"#F0AE8C","fillOpacity":0.55,"stroke":"#D2693C","strokeWidth":2.2},
  "encoding":{"x":{"field":"lo","type":"quantitative","scale":{"domain":[-0.52,13.1],"range":[867,1156],"nice":false,"zero":false},"axis":null},"x2":{"field":"hi"},
   "y":{"field":"top","type":"quantitative","scale":{"domain":[-1.124,50.7],"range":[0,738],"nice":false,"zero":false},"axis":null},"y2":{"field":"bot"}}},
 {"data":{"name":"ri_dots"},"mark":{"type":"point","filled":true,"size":18,"opacity":1},
  "encoding":{"x":{"field":"x","type":"quantitative","scale":{"domain":[-0.52,13.1],"range":[867,1156],"nice":false,"zero":false},"axis":null},
   "y":{"field":"age","type":"quantitative","scale":{"domain":[-1.124,50.7],"range":[0,738],"nice":false,"zero":false},"axis":null},
   "color":{"field":"kind","type":"nominal","scale":{"domain":["dark","salmon"],"range":["#333333","#E08A66"]},"legend":null}}}
]},
{"data":{"name":"one"},"mark":{"type":"rect","fill":"#000000","opacity":0.12},
 "encoding":{"x":{"datum":0,"type":"quantitative","scale":{"domain":[0,1],"range":[71,1156],"nice":false,"zero":false},"axis":null},"x2":{"datum":1},
  "y":{"datum":15.95,"type":"quantitative","scale":{"domain":[-1.124,50.7],"range":[0,738],"nice":false,"zero":false},"axis":null},"y2":{"datum":28.5}}}
]
}
